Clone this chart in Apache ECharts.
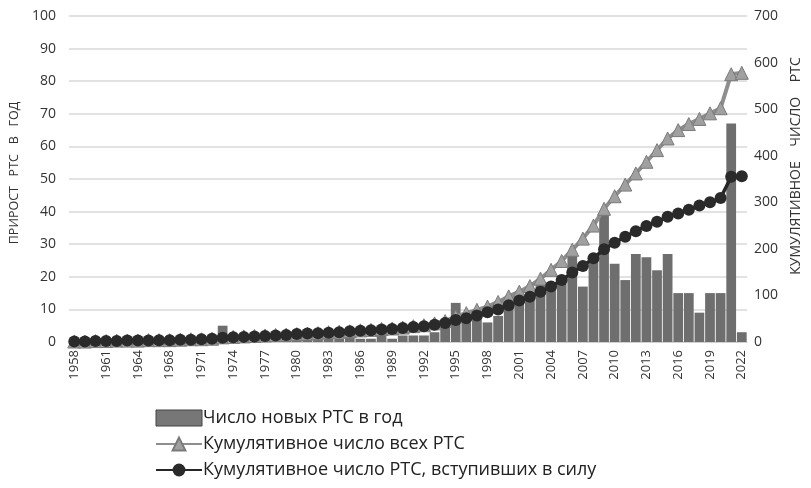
<!DOCTYPE html>
<html>
<head>
<meta charset="utf-8">
<script src="https://cdn.jsdelivr.net/npm/echarts@6/dist/echarts.min.js"></script>
<style>
  html, body {margin: 0; padding: 0; background: #fff;}
  #chart {width: 811px; height: 488px;}
</style>
</head>
<body>
<div id="chart"></div>
<script>
const years = [
    '1958', '1959', '1960', '1961', '1962', '1963', '1964', '1965', '1967', '1968',
    '1969', '1970', '1971', '1972', '1973', '1974', '1975', '1976', '1977', '1978',
    '1979', '1980', '1981', '1982', '1983', '1984', '1985', '1986', '1987', '1988',
    '1989', '1990', '1991', '1992', '1993', '1994', '1995', '1996', '1997', '1998',
    '1999', '2000', '2001', '2002', '2003', '2004', '2005', '2006', '2007', '2008',
    '2009', '2010', '2011', '2012', '2013', '2014', '2015', '2016', '2017', '2018',
    '2019', '2020', '2021', '2022'
];

// число новых РТС в год (левая ось)
const newPerYear = [
    1, 0, 1, 0, 1, 0, 1, 0, 1, 0,
    1, 1, 1, 1, 5, 1, 1, 1, 1, 1,
    1, 1, 1, 1, 1, 1, 2, 1, 1, 2,
    1, 2, 2, 2, 3, 5, 12, 6, 7, 6,
    8, 12, 12, 13, 18, 18, 18, 27, 17, 26,
    40, 24, 19, 27, 26, 22, 27, 15, 15, 9,
    15, 15, 67, 3
];

// кумулятивное число всех РТС (правая ось)
const cumAll = [
    1, 1, 2, 2, 3, 3, 3, 4, 4, 4,
    5, 6, 6, 7, 10, 11, 12, 13, 14, 15,
    16, 17, 18, 19, 21, 22, 23, 25, 26, 28,
    29, 31, 34, 36, 40, 45, 55, 62, 69, 76,
    86, 98, 108, 120, 136, 155, 174, 198, 222, 250,
    286, 313, 338, 362, 387, 412, 437, 455, 468, 479,
    491, 502, 575, 578
];

// кумулятивное число РТС, вступивших в силу (правая ось)
const cumInForce = [
    1, 1, 2, 2, 2, 3, 3, 3, 4, 4,
    5, 5, 6, 7, 9, 10, 11, 12, 13, 14,
    15, 17, 18, 19, 20, 21, 23, 24, 25, 27,
    28, 30, 32, 34, 37, 41, 47, 51, 57, 64,
    70, 79, 89, 97, 108, 119, 133, 149, 163, 180,
    199, 213, 226, 238, 249, 258, 269, 276, 284, 293,
    300, 309, 355, 356
];

const leftTicks = {min: 0, max: 100, interval: 10};
const rightTicks = {min: 0, max: 700, interval: 100};

const chart = echarts.init(document.getElementById('chart'));

const font = 'Open Sans, Noto Sans, sans-serif';

const option = {
    animation: false,
    textStyle: {fontFamily: font},
    grid: {left: 65, right: 55, top: 16, bottom: 146},
    legend: {
        orient: 'vertical',
        left: 150,
        top: 404,
        itemGap: 8,
        itemWidth: 46,
        itemHeight: 16,
        textStyle: {fontSize: 18, color: '#222', fontFamily: font, padding: [0, 0, 0, -4]},
        data: [
            {name: 'Число новых РТС в год', icon: 'rect', itemStyle: {color: '#777', borderColor: '#444', borderWidth: 1}},
            {name: 'Кумулятивное число всех РТС'},
            {name: 'Кумулятивное число РТС, вступивших в силу'}
        ]
    },
    xAxis: {
        type: 'category',
        data: years,
        axisTick: {show: false},
        axisLine: {lineStyle: {color: '#d0d0d0'}},
        axisLabel: {
            interval: 2,
            rotate: 90,
            fontSize: 13,
            color: '#333',
            margin: 8
        }
    },
    yAxis: [
        {
            type: 'value',
            ...leftTicks,
            name: 'ПРИРОСТ   РТС   В   ГОД',
            nameLocation: 'middle',
            nameRotate: 90,
            nameGap: 48,
            nameTextStyle: {fontSize: 12.5, color: '#333', padding: [0, 0, 0, 12]},
            axisLabel: {fontSize: 14, color: '#333', margin: 13},
            splitLine: {lineStyle: {color: '#d9d9d9', width: 1.5}},
            axisLine: {show: false},
            axisTick: {show: false}
        },
        {
            type: 'value',
            ...rightTicks,
            position: 'right',
            name: 'КУМУЛЯТИВНОЕ    ЧИСЛО    РТС',
            nameLocation: 'middle',
            nameRotate: 90,
            nameGap: 41,
            nameTextStyle: {fontSize: 14, color: '#333', padding: [0, 0, 0, 26]},
            axisLabel: {fontSize: 14, color: '#333', margin: 7},
            splitLine: {show: false},
            axisLine: {show: false},
            axisTick: {show: false}
        }
    ],
    series: [
        {
            name: 'Число новых РТС в год',
            type: 'bar',
            yAxisIndex: 0,
            data: newPerYear,
            barCategoryGap: '8%',
            itemStyle: {color: '#6e6e6e'}
        },
        {
            name: 'Кумулятивное число всех РТС',
            type: 'line',
            yAxisIndex: 1,
            data: cumAll,
            symbol: 'triangle',
            symbolSize: 13,
            showAllSymbol: true,
            lineStyle: {color: '#8e8e8e', width: 4},
            itemStyle: {color: '#a0a0a0', borderColor: '#7a7a7a', borderWidth: 1}
        },
        {
            name: 'Кумулятивное число РТС, вступивших в силу',
            type: 'line',
            yAxisIndex: 1,
            data: cumInForce,
            symbol: 'circle',
            symbolSize: 12,
            showAllSymbol: true,
            lineStyle: {color: '#262626', width: 3.5},
            itemStyle: {color: '#2a2a2a'}
        }
    ]
};

chart.setOption(option);
</script>
</body>
</html>
